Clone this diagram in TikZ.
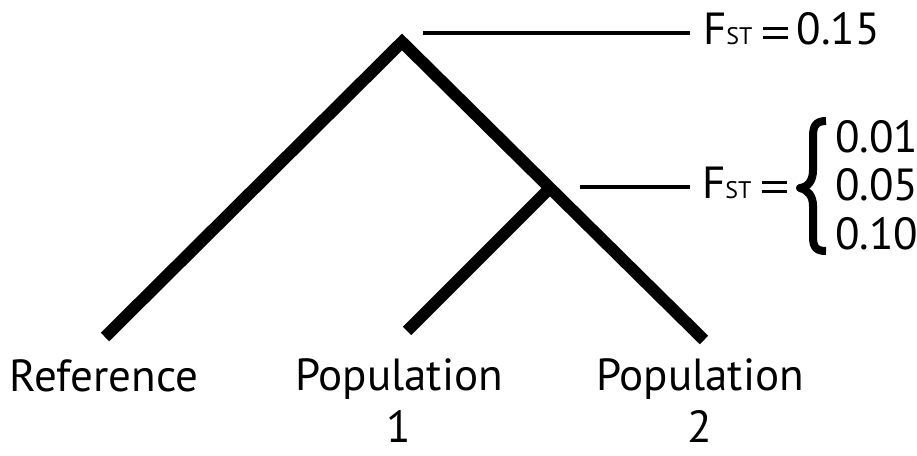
\documentclass[tikz,border=0pt]{standalone}
\usepackage{fontspec}
\setmainfont{PT Sans}
\begin{document}
\begin{tikzpicture}[x=1pt,y=-1pt,
  branch/.style={line width=12pt, line join=miter, line cap=butt},
  tick/.style={line width=3.5pt},
  lab/.style={font=\fontsize{45}{52}\selectfont, inner sep=0pt, align=center},
  bracepath/.style={line width=8pt, line cap=butt, line join=round}]
\useasboundingbox (0,0) rectangle (917,455);
% tree
\coordinate (root) at (402,42);
\coordinate (ref) at (105,337);
\coordinate (p2) at (704,340);
\coordinate (mid) at (549,189);
\coordinate (p1) at (407,331);
\draw[branch] (ref) -- (root) -- (p2);
\draw[branch] (mid) -- (p1);
% leaf labels
\node[lab] (lref) at (104,376) {Reference};
\node[lab] (lp1) at (399,401) {Population\\1};
\node[lab] (lp2) at (700,401) {Population\\2};
% F_ST labels
\newcommand{\myfst}{F{\fontsize{24}{26}\selectfont ST}}
\newcommand{\myeq}{\hspace{10pt}\rlap{\raisebox{6pt}{\rule{25pt}{2.8pt}}}\raisebox{15pt}{\rule{25pt}{2.8pt}}\hspace{9pt}}
\node[lab, anchor=west] (f1) at (703,29) {\myfst\myeq0.15};
\coordinate (t1) at (423,33);
\coordinate (e1) at (690,33);
\draw[tick] (t1) -- (e1);
\node[lab, anchor=west] (f2) at (702,183) {\myfst\myeq\vphantom{0}};
\coordinate (t2) at (580,187);
\coordinate (e2) at (690,187);
\draw[tick] (t2) -- (e2);
% brace
\coordinate (bt) at (826,121);
\coordinate (bm) at (800,188);
\coordinate (bb) at (826,251);
\draw[bracepath] (bt) .. controls (816,121) and (813,126) .. (813,136)
  -- (813,170) .. controls (813,181) and (808,187) .. (bm)
  .. controls (808,190) and (813,196) .. (813,206)
  -- (813,237) .. controls (813,247) and (816,251) .. (bb);
\node[lab, anchor=west] (v1) at (835,137) {0.01};
\node[lab, anchor=west] (v2) at (835,185) {0.05};
\node[lab, anchor=west] (v3) at (835,234) {0.10};
\end{tikzpicture}
\end{document}
